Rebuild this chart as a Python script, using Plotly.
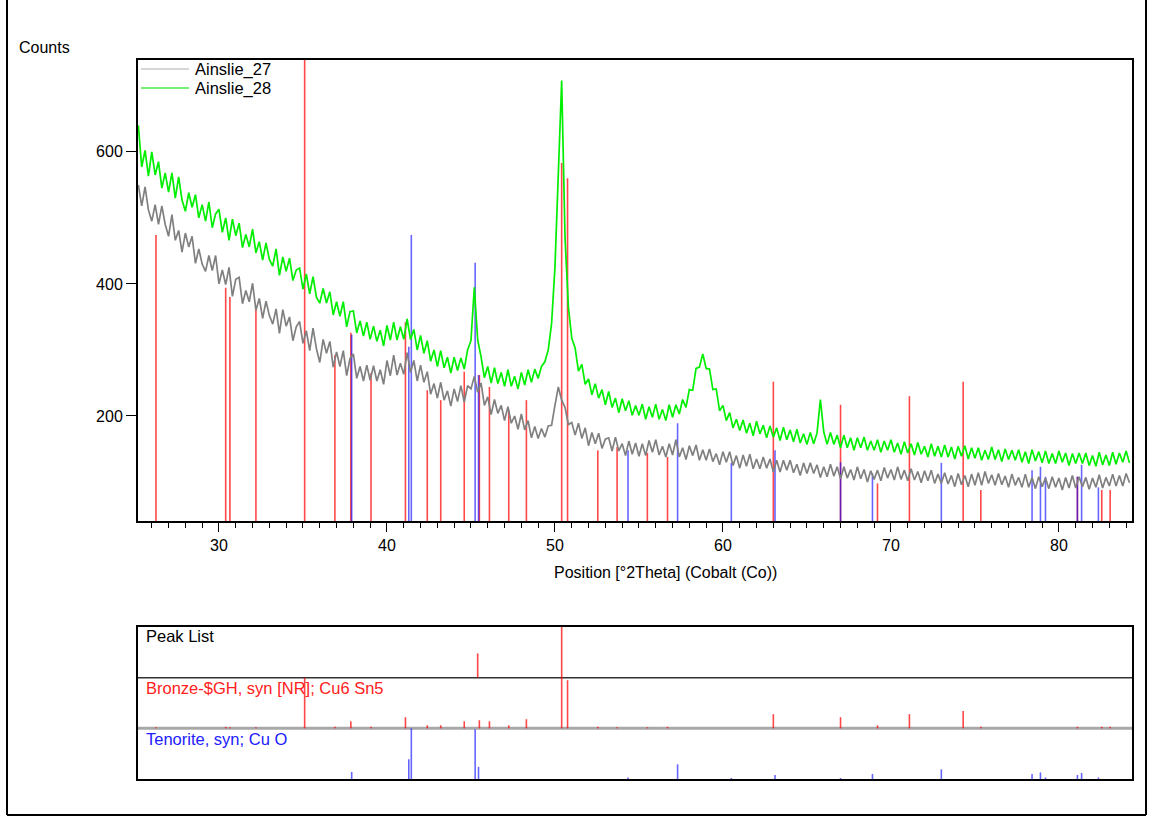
import numpy as np
import plotly.graph_objects as go

W, H = 1153, 816

# ---------------- data ----------------
x_start, x_step = 25.2, 0.2
counts_27 = [
    550, 518, 547, 512, 495, 520, 490, 518, 490, 472,
    505, 466, 481, 448, 477, 456, 472, 431, 453, 430,
    419, 443, 420, 443, 400, 421, 399, 425, 381, 407,
    410, 370, 390, 373, 401, 360, 378, 348, 374, 352,
    339, 362, 325, 361, 336, 350, 314, 335, 343, 310,
    329, 299, 333, 302, 281, 316, 295, 313, 274, 297,
    275, 299, 261, 287, 294, 257, 275, 253, 277, 254,
    276, 253, 270, 248, 284, 261, 292, 262, 280, 263,
    296, 266, 284, 253, 277, 251, 267, 233, 249, 227,
    251, 224, 238, 215, 241, 222, 246, 221, 246, 241,
    260, 236, 250, 216, 229, 202, 225, 204, 216, 193,
    214, 189, 200, 180, 203, 179, 193, 167, 184, 166,
    181, 168, 185, 186, 216, 244, 224, 213, 187, 190,
    171, 189, 166, 182, 155, 175, 158, 174, 151, 165,
    167, 147, 168, 147, 158, 140, 162, 142, 159, 139,
    158, 140, 163, 145, 164, 141, 154, 138, 158, 141,
    164, 138, 152, 134, 155, 140, 156, 133, 149, 133,
    150, 131, 143, 126, 146, 130, 146, 125, 140, 121,
    141, 124, 142, 120, 135, 120, 138, 121, 135, 115,
    133, 115, 133, 118, 133, 114, 127, 110, 129, 113,
    129, 113, 126, 107, 123, 108, 127, 109, 123, 105,
    123, 106, 119, 103, 123, 105, 119, 100, 117, 104,
    118, 102, 122, 106, 119, 103, 123, 104, 118, 102,
    120, 103, 116, 99, 117, 102, 118, 98, 112, 98,
    114, 97, 110, 93, 113, 96, 110, 93, 112, 95,
    114, 95, 116, 98, 111, 95, 113, 96, 109, 92,
    112, 95, 107, 92, 112, 92, 107, 90, 108, 93,
    106, 90, 108, 92, 106, 88, 107, 91, 110, 91,
    108, 93, 107, 89, 106, 92, 111, 91, 107, 94,
    112, 94, 110, 94, 113, 99,
]
counts_28 = [
    640, 577, 602, 563, 600, 565, 585, 545, 568, 539,
    568, 530, 562, 527, 510, 538, 516, 535, 500, 520,
    495, 524, 485, 506, 513, 478, 500, 466, 498, 473,
    492, 455, 475, 456, 483, 447, 464, 436, 462, 437,
    427, 453, 413, 441, 419, 439, 405, 421, 424, 392,
    415, 385, 411, 380, 371, 393, 371, 388, 353, 373,
    351, 373, 335, 358, 359, 326, 344, 321, 342, 316,
    336, 313, 330, 306, 337, 315, 342, 315, 335, 316,
    347, 316, 331, 300, 322, 295, 314, 283, 300, 275,
    299, 273, 289, 265, 289, 269, 288, 271, 300, 314,
    395, 315, 290, 258, 275, 250, 273, 249, 266, 245,
    270, 245, 260, 241, 266, 247, 270, 251, 271, 257,
    275, 282, 300, 340, 425, 580, 708, 470, 365, 318,
    303, 268, 278, 248, 256, 232, 249, 227, 240, 217,
    237, 213, 227, 205, 226, 208, 223, 201, 216, 201,
    218, 195, 214, 198, 218, 195, 210, 193, 217, 198,
    217, 203, 225, 213, 240, 239, 272, 274, 294, 272,
    271, 240, 241, 208, 216, 193, 205, 182, 195, 178,
    194, 174, 189, 170, 192, 173, 186, 167, 185, 168,
    182, 163, 183, 164, 179, 161, 180, 159, 173, 157,
    175, 158, 174, 225, 176, 157, 175, 157, 171, 152,
    171, 152, 167, 148, 167, 152, 168, 148, 162, 148,
    164, 145, 162, 148, 164, 145, 159, 142, 161, 144,
    158, 141, 160, 142, 154, 138, 158, 139, 154, 138,
    156, 138, 153, 135, 154, 139, 155, 135, 152, 136,
    152, 133, 148, 134, 153, 134, 149, 131, 150, 134,
    148, 133, 149, 130, 146, 128, 149, 132, 146, 129,
    147, 128, 143, 128, 147, 130, 144, 125, 143, 128,
    144, 128, 144, 125, 140, 124, 145, 126, 141, 125,
    145, 127, 144, 130, 147, 129,
]
two_theta = np.round(x_start + x_step * np.arange(len(counts_27)), 2)

# reference patterns: position, stick top in main plot (counts), relative intensity in lower panel
bronze_pos = [26.25, 30.4, 30.65, 32.2, 35.1, 36.9, 37.85, 39.05, 41.1, 42.4, 43.2, 44.6,
              45.5, 46.1, 47.25, 48.3, 50.4, 50.75, 52.55, 53.7, 55.5, 56.7, 63.0, 67.0,
              69.2, 71.1, 74.3, 75.35, 81.1, 82.55, 83.05]
bronze_top = [474, 394, 380, 364, 800, 292, 326, 265, 342, 239, 224, 267,
              262, 244, 209, 224, 583, 560, 148, 153, 144, 138, 252, 217,
              98, 230, 252, 88, 108, 88, 88]
bronze_rel = [0.02, 0.03, 0.02, 0.02, 1.0, 0.03, 0.14, 0.03, 0.22, 0.06, 0.06, 0.14,
              0.16, 0.14, 0.06, 0.18, 1.0, 0.95, 0.03, 0.02, 0.02, 0.03, 0.28, 0.22,
              0.06, 0.28, 0.34, 0.03, 0.03, 0.03, 0.03]

tenorite_pos = [37.9, 41.3, 41.45, 45.25, 45.45, 54.35, 57.3, 60.5, 63.1, 67.0, 68.9,
                73.0, 78.4, 78.9, 79.2, 81.1, 81.35, 82.35]
tenorite_top = [323, 305, 474, 432, 262, 148, 189, 129, 148, 130, 113,
                129, 118, 123, 108, 108, 126, 92]
tenorite_rel = [0.14, 0.39, 1.0, 0.98, 0.24, 0.03, 0.29, 0.02, 0.08, 0.02, 0.10,
                0.19, 0.10, 0.13, 0.03, 0.08, 0.12, 0.03]

peak_pos = [45.4, 50.4]
peak_rel = [0.48, 1.0]

x_ticks = [30, 40, 50, 60, 70, 80]
y_ticks = [200, 400, 600]

# ---------------- layout helpers ----------------
def px(x):
    return x / W


def py(y):
    return 1 - y / H


FONT = "Arial, Liberation Sans, sans-serif"
X_RANGE = [25.18, 84.35]
Y_RANGE = [41, 739]
RED = "rgba(255,0,0,0.72)"
BLUE = "rgba(0,0,255,0.6)"


def sticks(pos, top, base):
    xs, ys = [], []
    for p, t in zip(pos, top):
        xs += [p, p, None]
        ys += [base, t, None]
    return xs, ys


fig = go.Figure()

# main plot sticks (behind data)
bx, by = sticks(bronze_pos, bronze_top, 0)
fig.add_trace(go.Scatter(x=bx, y=by, mode="lines", line=dict(color=RED, width=1.6),
                         hoverinfo="skip", showlegend=False, xaxis="x", yaxis="y"))
tx, ty = sticks(tenorite_pos, tenorite_top, 0)
fig.add_trace(go.Scatter(x=tx, y=ty, mode="lines", line=dict(color=BLUE, width=1.6),
                         hoverinfo="skip", showlegend=False, xaxis="x", yaxis="y"))

fig.add_trace(go.Scatter(x=two_theta, y=counts_28, mode="lines", name="Ainslie_28",
                         line=dict(color="#00ee00", width=1.7), showlegend=False,
                         xaxis="x", yaxis="y"))
fig.add_trace(go.Scatter(x=two_theta, y=counts_27, mode="lines", name="Ainslie_27",
                         line=dict(color="#808080", width=1.7), showlegend=False,
                         xaxis="x", yaxis="y"))

# lower panel: 0-1 Tenorite, 1-2 Bronze, 2-3 Peak list
lx, ly = sticks(tenorite_pos, [r for r in tenorite_rel], 0)
fig.add_trace(go.Scatter(x=lx, y=ly, mode="lines", line=dict(color=BLUE, width=1.6),
                         hoverinfo="skip", showlegend=False, xaxis="x2", yaxis="y2"))
lx, ly = sticks(bronze_pos, [1 + r for r in bronze_rel], 1)
fig.add_trace(go.Scatter(x=lx, y=ly, mode="lines", line=dict(color=RED, width=1.6),
                         hoverinfo="skip", showlegend=False, xaxis="x2", yaxis="y2"))
lx, ly = sticks(peak_pos, [2 + r for r in peak_rel], 2)
fig.add_trace(go.Scatter(x=lx, y=ly, mode="lines", line=dict(color=RED, width=1.6),
                         hoverinfo="skip", showlegend=False, xaxis="x2", yaxis="y2"))

main_dom_x = [px(138), px(1132)]

fig.update_layout(
    width=W, height=H,
    margin=dict(l=0, r=0, t=0, b=0),
    paper_bgcolor="white", plot_bgcolor="white",
    font=dict(family=FONT, size=16, color="black"),
    showlegend=False,
    xaxis=dict(domain=main_dom_x, anchor="y", range=X_RANGE, tickvals=x_ticks,
               ticks="outside", ticklen=9, tickwidth=1, tickcolor="black",
               minor=dict(dtick=1, tick0=0, ticks="outside", ticklen=5,
                          tickwidth=1, tickcolor="black"),
               showgrid=False, zeroline=False, showline=True, linecolor="black",
               linewidth=2, mirror=True, tickfont=dict(size=16)),
    yaxis=dict(domain=[py(521), py(60)], anchor="x", range=Y_RANGE, tickvals=y_ticks,
               ticks="outside", ticklen=10, tickwidth=1, tickcolor="black",
               showgrid=False, zeroline=False, showline=True, linecolor="black",
               linewidth=2, mirror=True, tickfont=dict(size=16)),
    xaxis2=dict(domain=main_dom_x, anchor="y2", range=X_RANGE, showticklabels=False,
                ticks="", showgrid=False, zeroline=False, showline=True,
                linecolor="black", linewidth=2, mirror=True),
    yaxis2=dict(domain=[py(779), py(627)], anchor="x2", range=[0, 3],
                showticklabels=False, ticks="", showgrid=False, zeroline=False,
                showline=True, linecolor="black", linewidth=2, mirror=True),
)

shapes = []
# page frame
shapes.append(dict(type="line", xref="paper", yref="paper", x0=px(7), x1=px(7),
                   y0=py(0), y1=py(815), line=dict(color="black", width=2)))
shapes.append(dict(type="line", xref="paper", yref="paper", x0=px(7), x1=px(1146),
                   y0=py(815), y1=py(815), line=dict(color="black", width=2)))
shapes.append(dict(type="line", xref="paper", yref="paper", x0=px(1146), x1=px(1146),
                   y0=py(0), y1=py(815), line=dict(color="black", width=2)))
# lower panel separators
shapes.append(dict(type="line", xref="x2 domain", yref="y2", x0=0, x1=1, y0=2, y1=2,
                   line=dict(color="#333333", width=1.5), layer="below"))
shapes.append(dict(type="line", xref="x2 domain", yref="y2", x0=0, x1=1, y0=1, y1=1,
                   line=dict(color="#a8a8a8", width=3), layer="below"))
# legend lines
shapes.append(dict(type="line", xref="paper", yref="paper", x0=px(141), x1=px(189),
                   y0=py(69), y1=py(69), line=dict(color="#c8c8c8", width=1.5)))
shapes.append(dict(type="line", xref="paper", yref="paper", x0=px(141), x1=px(189),
                   y0=py(88), y1=py(88), line=dict(color="#44ee44", width=1.5)))
fig.update_layout(shapes=shapes)

ann = []


def text(s, x, y, color="black", size=16, xanchor="left"):
    ann.append(dict(text=s, x=px(x), y=py(y), xref="paper", yref="paper",
                    xanchor=xanchor, yanchor="middle", showarrow=False,
                    font=dict(family=FONT, size=size, color=color)))


text("Counts", 17, 47, size=16)
text("Ainslie_27", 193, 69, size=16.5)
text("Ainslie_28", 193, 88, size=16.5)
text("Position [°2Theta] (Cobalt (Co))", 665, 572, size=16, xanchor="center")
text("Peak List", 144, 636, size=16.5)
text("Bronze-$GH, syn [NR]; Cu6 Sn5", 144, 688, color="#ff2020", size=16.5)
text("Tenorite, syn; Cu O", 144, 739, color="#2020ff", size=16.5)
fig.update_layout(annotations=ann)

fig.write_html("out.html")
